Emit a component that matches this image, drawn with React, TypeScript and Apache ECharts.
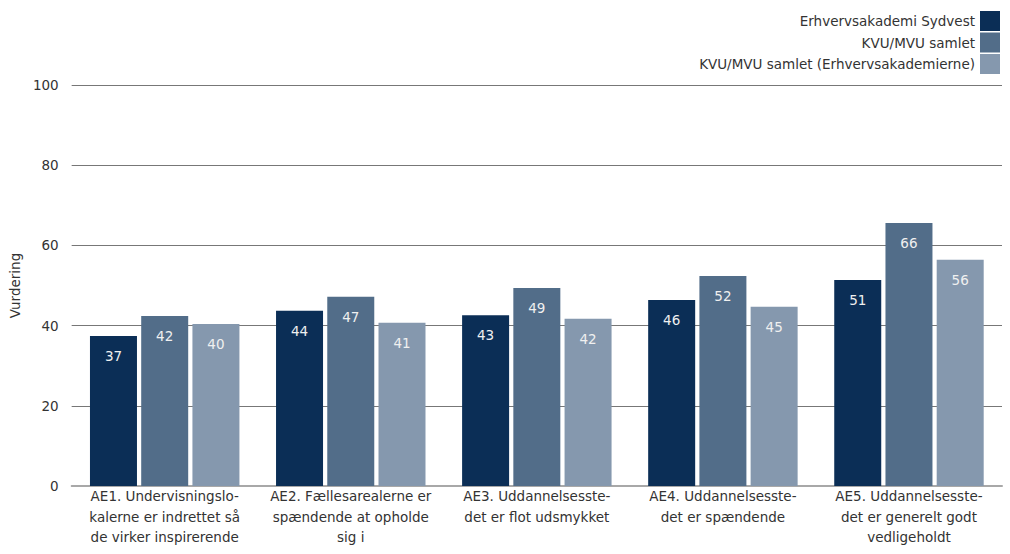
import React, { useEffect, useRef } from "react";
import * as echarts from "echarts";

const categories = [
  "AE1. Undervisningslo-\nkalerne er indrettet så\nde virker inspirerende",
  "AE2. Fællesarealerne er\nspændende at opholde\nsig i",
  "AE3. Uddannelsesste-\ndet er flot udsmykket",
  "AE4. Uddannelsesste-\ndet er spændende",
  "AE5. Uddannelsesste-\ndet er generelt godt\nvedligeholdt",
];
const seriesNames = [
  "Erhvervsakademi Sydvest",
  "KVU/MVU samlet",
  "KVU/MVU samlet (Erhvervsakademierne)",
];
const sydvest = [37.4, 43.7, 42.6, 46.4, 51.4];
const kvuMvu = [42.4, 47.2, 49.4, 52.4, 65.6];
const kvuMvuEa = [40.4, 40.7, 41.7, 44.7, 56.4];
const colors = ["#0b2e56", "#526d89", "#8598ae"];
const yTicks = { min: 0, max: 100, interval: 20 };
const yAxisName = "Vurdering";

const FONT = "DejaVu Sans";
const FS = 13.5;

export default function App() {
  const ref = useRef<HTMLDivElement>(null);
  useEffect(() => {
    if (!ref.current) return;
    const chart = echarts.init(ref.current, undefined, { renderer: "svg" });
    const values = [sydvest, kvuMvu, kvuMvuEa];
    chart.setOption({
      animation: false,
      textStyle: { fontFamily: FONT },
      legend: {
        orient: "vertical",
        right: 5,
        top: 6,
        align: "right",
        itemWidth: 20,
        itemHeight: 20,
        itemGap: 1.5,
        icon: "rect",
        textStyle: { fontFamily: FONT, fontSize: FS, color: "#333" },
        data: seriesNames,
      },
      grid: { left: 70, right: 8, top: 85, bottom: 68 },
      xAxis: {
        type: "category",
        data: categories,
        axisLine: { lineStyle: { color: "#a8a8a8", width: 2 } },
        axisTick: { show: false },
        axisLabel: {
          interval: 0,
          fontFamily: FONT,
          fontSize: FS,
          color: "#333",
          lineHeight: 20.5,
          margin: 0,
        },
      },
      yAxis: {
        type: "value",
        min: yTicks.min,
        max: yTicks.max,
        interval: yTicks.interval,
        name: yAxisName,
        nameLocation: "middle",
        nameGap: 40,
        nameTextStyle: { fontFamily: FONT, fontSize: FS, color: "#333" },
        axisLine: { show: false },
        axisTick: { show: false },
        axisLabel: { fontFamily: FONT, fontSize: FS, color: "#333", margin: 13 },
        splitLine: { lineStyle: { color: "#777", width: 1 } },
      },
      series: seriesNames.map((name, i) => ({
        name,
        type: "bar",
        data: values[i],
        barWidth: 47,
        barGap: "9%",
        itemStyle: { color: colors[i] },
        label: {
          show: true,
          position: "insideTop",
          distance: 13,
          color: "#f0f0f0",
          fontFamily: FONT,
          fontSize: FS,
          formatter: (p: any) => String(Math.round(p.value)),
        },
      })),
    });
    return () => chart.dispose();
  }, []);
  return (
    <div
      ref={ref}
      style={{ position: "absolute", left: 0, top: 0, width: 1010, height: 554 }}
    />
  );
}
